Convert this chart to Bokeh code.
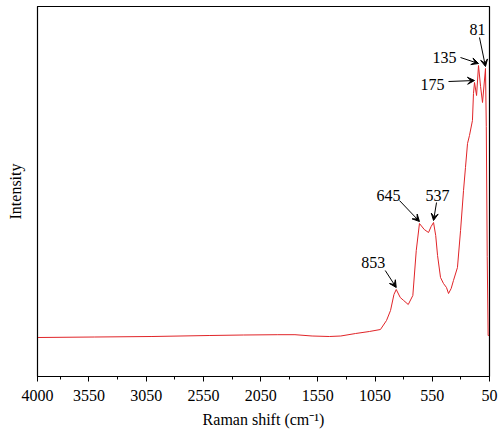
import numpy as np
from bokeh.plotting import figure
from bokeh.models import Range1d, FixedTicker, Arrow, VeeHead, Label
from bokeh.embed import file_html
from bokeh.resources import INLINE

# Raman spectrum (wavenumber in cm-1, intensity in arbitrary units)
shift = [4000, 3500, 3000, 2500, 2200, 1900, 1750, 1600, 1450, 1350, 1220, 1100, 1003,
         950, 915, 885, 865, 830, 800, 760, 720, 690, 662, 620, 583, 560, 539, 520,
         504, 478, 452, 426, 408, 385, 365, 330, 303, 277, 260, 242, 225, 199, 190,
         181, 163, 146, 128, 111, 85, 78, 70, 62, 55]
intensity = [39, 39.5, 40, 41, 41.5, 41.8, 41.8, 40.5, 40, 40.5, 43, 45, 47,
             56, 66, 82, 87, 79, 76, 72, 81, 126, 153, 147, 144, 150, 154, 141,
             121, 99, 93, 89, 83, 88, 96, 109, 146, 186, 209, 233, 241, 256, 283,
             294, 281, 311, 290, 274, 308, 250, 120, 41, 41]

peak_labels = ["853", "645", "537", "175", "135", "81"]
peak_shift = [865, 662, 539, 181, 146, 85]
# label / arrow-start offsets in screen px (dx right, dy down) from peak tip
text_off = [(-23, -25), (-31, -26), (4, -25), (-42, 4), (-34, -6), (-8, -37)]
start_off = [(-11, -17), (-20, -21), (3, -18), (-26, 1), (-18, -6), (-6, -29)]

major = [4000, 3550, 3050, 2550, 2050, 1550, 1050, 550, 50]
minor = [3800, 3300, 2800, 2300, 1800, 1300, 800, 300]

FONT = "Liberation Serif"
FS = "16px"
W, H = 500, 437
left, right, top, bottom = 37, 11, 6, 61
x0, x1 = 4000, 50
y0, y1 = 0, 370

p = figure(width=W, height=H, output_backend="svg", toolbar_location=None,
           x_range=Range1d(x0, x1), y_range=Range1d(y0, y1),
           min_border_left=left, min_border_right=right,
           min_border_top=top, min_border_bottom=bottom)
p.grid.visible = False
p.outline_line_color = "black"
p.outline_line_width = 1.2
p.background_fill_color = "white"
p.border_fill_color = "white"

p.line(shift, intensity, line_color="#e02428", line_width=1)

xpp = (x0 - x1) / (W - left - right)   # data units per px (x)
ypp = (y1 - y0) / (H - top - bottom)   # data units per px (y)

for lab, px, (tdx, tdy), (sdx, sdy) in zip(peak_labels, peak_shift, text_off, start_off):
    py = intensity[shift.index(px)] + 2
    p.add_layout(Arrow(end=VeeHead(size=7, fill_color="black", line_color="black", line_width=1),
                       x_start=px - sdx * xpp, y_start=py - sdy * ypp,
                       x_end=px, y_end=py, line_color="black", line_width=1))
    p.add_layout(Label(x=px - tdx * xpp, y=py - tdy * ypp, text=lab,
                       text_font=FONT, text_font_size=FS, text_color="black",
                       text_align="center", text_baseline="middle"))

xa = p.xaxis[0]
xa.ticker = FixedTicker(ticks=major, minor_ticks=minor)
xa.major_tick_in = 0
xa.major_tick_out = 5
xa.minor_tick_in = 0
xa.minor_tick_out = 3
xa.major_label_text_font = FONT
xa.major_label_text_font_size = FS
xa.major_label_text_color = "black"
xa.major_label_standoff = 8
xa.axis_label = "Raman shift (cm⁻¹)"
xa.axis_label_text_font = FONT
xa.axis_label_text_font_size = FS
xa.axis_label_text_color = "black"
xa.axis_label_text_font_style = "normal"
xa.axis_label_standoff = 7
xa.axis_line_color = "black"
xa.major_tick_line_color = "black"
xa.minor_tick_line_color = "black"

ya = p.yaxis[0]
ya.ticker = FixedTicker(ticks=[])
ya.major_tick_in = 0
ya.major_tick_out = 0
ya.minor_tick_in = 0
ya.minor_tick_out = 0
ya.major_label_text_font_size = "0px"
ya.axis_label = "Intensity"
ya.axis_label_text_font = FONT
ya.axis_label_text_font_size = FS
ya.axis_label_text_color = "black"
ya.axis_label_text_font_style = "normal"
ya.axis_label_standoff = 14
ya.axis_line_color = "black"

open("out.html", "w").write(file_html(p, INLINE))
